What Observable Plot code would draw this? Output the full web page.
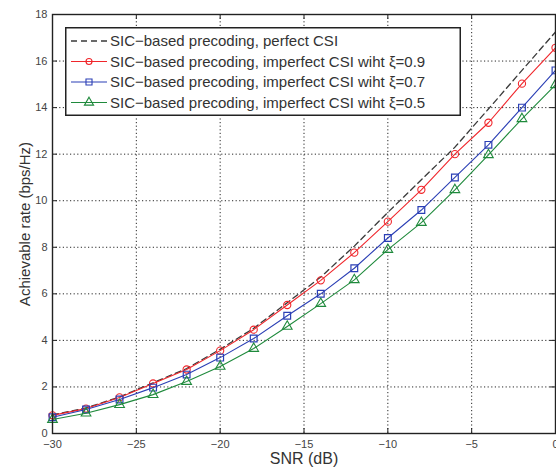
<!DOCTYPE html>
<html>
<head>
<meta charset="utf-8">
<script src="https://cdn.jsdelivr.net/npm/d3@7"></script>
<script src="https://cdn.jsdelivr.net/npm/@observablehq/plot@0.6"></script>
<style>
  html, body { margin: 0; padding: 0; background: #fff; }
  #wrap { position: relative; width: 556px; height: 468px; font-family: "Liberation Sans", Arial, sans-serif; }
  #legend { position: absolute; left: 65px; top: 27px; }
</style>
</head>
<body>
<div id="wrap"></div>
<script>
const snr = [-30, -28, -26, -24, -22, -20, -18, -16, -14, -12, -10, -8, -6, -4, -2, 0];
const perfectCSI = [0.8, 1.1, 1.57, 2.18, 2.79, 3.62, 4.52, 5.62, 6.72, 8.05, 9.5, 10.9, 12.3, 13.94, 15.6, 17.25];
const xi09 = [0.78, 1.07, 1.55, 2.15, 2.75, 3.56, 4.46, 5.52, 6.58, 7.77, 9.1, 10.47, 12.0, 13.35, 15.03, 16.57];
const xi07 = [0.7, 1.03, 1.46, 1.97, 2.53, 3.26, 4.08, 5.06, 6.0, 7.1, 8.4, 9.6, 11.0, 12.4, 14.0, 15.6];
const xi05 = [0.6, 0.87, 1.24, 1.67, 2.23, 2.88, 3.65, 4.6, 5.58, 6.6, 7.9, 9.06, 10.47, 11.97, 13.52, 14.98];

const seriesNames = [
  "SIC\u2212based precoding, perfect CSI",
  "SIC\u2212based precoding, imperfect CSI wiht \u03be=0.9",
  "SIC\u2212based precoding, imperfect CSI wiht \u03be=0.7",
  "SIC\u2212based precoding, imperfect CSI wiht \u03be=0.5"
];
const xTicks = [-30, -25, -20, -15, -10, -5, 0];
const yTicks = [0, 2, 4, 6, 8, 10, 12, 14, 16, 18];

const colors = {perfect: "#3a3a3a", r: "#f0262b", b: "#2b3fb5", g: "#1f8a3c"};

const toRows = (vals) => snr.map((x, i) => ({x, y: vals[i]}));
const dPerfect = toRows(perfectCSI);
const d09 = toRows(xi09);
const d07 = toRows(xi07);
const d05 = toRows(xi05);

const W = 556, H = 468, mL = 52, mR = 1, mT = 14, mB = 35;
const innerW = W - mL - mR, innerH = H - mT - mB;
const tickLen = 5;

const chart = Plot.plot({
  width: W, height: H,
  marginLeft: mL, marginRight: mR, marginTop: mT, marginBottom: mB,
  style: {fontFamily: "'Liberation Sans', Arial, sans-serif", background: "#fff", overflow: "visible"},
  x: {domain: [-30, 0]},
  y: {domain: [0, 18]},
  marks: [
    Plot.gridX(xTicks, {stroke: "#111", strokeOpacity: 0.9, strokeDasharray: "1.2,2.4", strokeWidth: 1}),
    Plot.gridY(yTicks, {stroke: "#111", strokeOpacity: 0.9, strokeDasharray: "1.2,2.4", strokeWidth: 1}),
    // inward ticks
    Plot.tickX(xTicks, {x: d => d, insetTop: innerH - tickLen, stroke: "#222"}),
    Plot.tickX(xTicks, {x: d => d, insetBottom: innerH - tickLen, stroke: "#222"}),
    Plot.tickY(yTicks, {y: d => d, insetRight: innerW - tickLen, stroke: "#222"}),
    Plot.tickY(yTicks, {y: d => d, insetLeft: innerW - tickLen, stroke: "#222"}),
    Plot.axisX(xTicks, {tickSize: 0, tickPadding: 7, fontSize: 11, fill: "#444", label: null}),
    Plot.axisY(yTicks, {tickSize: 0, tickPadding: 5, fontSize: 11, fill: "#444", label: null}),
    Plot.axisX({ticks: [], label: "SNR (dB)", labelAnchor: "center", labelArrow: "none", labelOffset: 30, fontSize: 16, fill: "#333"}),
    Plot.axisY({ticks: [], label: "Achievable rate (bps/Hz)", labelAnchor: "center", labelArrow: "none", labelOffset: 33, fontSize: 15, fill: "#333"}),
    // series
    Plot.line(dPerfect, {x: "x", y: "y", stroke: colors.perfect, strokeWidth: 1.3, strokeDasharray: "6,4"}),
    Plot.line(d09, {x: "x", y: "y", stroke: colors.r, strokeWidth: 1.1}),
    Plot.dot(d09, {x: "x", y: "y", symbol: "circle", r: 3.6, stroke: colors.r, strokeWidth: 1.1, fill: "none"}),
    Plot.line(d07, {x: "x", y: "y", stroke: colors.b, strokeWidth: 1.1}),
    Plot.dot(d07, {x: "x", y: "y", symbol: "square", r: 3.8, stroke: colors.b, strokeWidth: 1.2, fill: "none"}),
    Plot.line(d05, {x: "x", y: "y", stroke: colors.g, strokeWidth: 1.1}),
    Plot.dot(d05, {x: "x", y: "y", symbol: "triangle", r: 3.6, stroke: colors.g, strokeWidth: 1.1, fill: "none"}),
    Plot.frame({stroke: "#222", strokeWidth: 1.4})
  ]
});

const wrap = document.getElementById("wrap");
wrap.appendChild(chart);

// Legend (HTML overlay drawn with d3)
const lw = 396, lh = 89;
const leg = d3.select(wrap).append("svg")
  .attr("id", "legend")
  .attr("width", lw).attr("height", lh);
leg.append("rect").attr("x", 0.75).attr("y", 0.75).attr("width", lw - 1.5).attr("height", lh - 1.5)
  .attr("fill", "#fff").attr("stroke", "#222").attr("stroke-width", 1.5);
const rowY = [14, 34.5, 55, 75.5];
const styles = [
  {stroke: colors.perfect, dash: "6,4", sym: null},
  {stroke: colors.r, dash: null, sym: "circle"},
  {stroke: colors.b, dash: null, sym: "square"},
  {stroke: colors.g, dash: null, sym: "triangle"}
];
seriesNames.forEach((name, i) => {
  const g = leg.append("g").attr("transform", `translate(0,${rowY[i]})`);
  const s = styles[i];
  g.append("line").attr("x1", 6).attr("x2", 42).attr("y1", 0).attr("y2", 0)
    .attr("stroke", s.stroke).attr("stroke-width", s.dash ? 1.3 : 1.1)
    .attr("stroke-dasharray", s.dash);
  if (s.sym) {
    const sym = {circle: d3.symbolCircle, square: d3.symbolSquare, triangle: d3.symbolTriangle}[s.sym];
    const r = {circle: 3.0, square: 3.4, triangle: 3.4}[s.sym];
    g.append("path").attr("d", d3.symbol(sym, r * r * Math.PI)())
      .attr("transform", "translate(24,0)")
      .attr("fill", "none").attr("stroke", s.stroke).attr("stroke-width", 1.1);
  }
  g.append("text").attr("x", 45).attr("y", 0).attr("dy", "0.36em")
    .attr("font-size", 15).attr("fill", "#333")
    .attr("font-family", "'Liberation Sans', Arial, sans-serif")
    .text(name);
});
</script>
</body>
</html>
